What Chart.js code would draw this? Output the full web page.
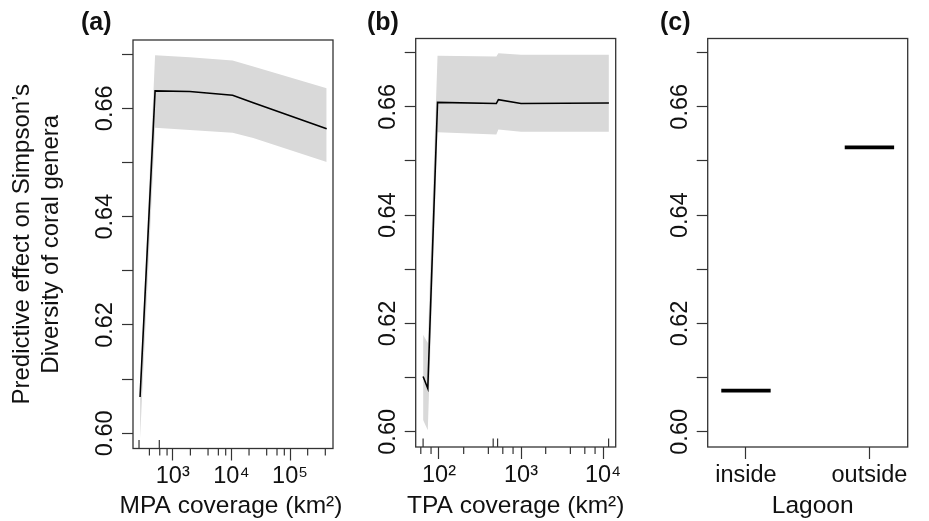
<!DOCTYPE html>
<html><head><meta charset="utf-8">
<script src="https://cdn.jsdelivr.net/npm/chart.js@4.4.1/dist/chart.umd.min.js"></script>
<style>
html,body{margin:0;padding:0;background:#fff;width:929px;height:521px;overflow:hidden;}
canvas{position:absolute;top:0;}
</style></head><body>
<canvas id="ca" width="345" height="521" style="left:0px"></canvas>
<canvas id="cb" width="275" height="521" style="left:355px"></canvas>
<canvas id="cc" width="299" height="521" style="left:630px"></canvas>
<script>
// ---------------- data ----------------
const mpaX     = [277, 500, 1950, 10500, 23600, 422000];
const mpaFit   = [0.6067, 0.6632, 0.6631, 0.6624, 0.6610, 0.6562];
const mpaUpper = [0.6085, 0.6698, 0.6694, 0.6688, 0.6677, 0.6637];
const mpaLower = [0.5990, 0.6564, 0.6560, 0.6555, 0.6545, 0.6501];
const mpaRug   = [266, 590];

const tpaX     = [64, 73, 96, 500, 530, 1000, 11800];
const tpaFit   = [0.6102, 0.6080, 0.6608, 0.6606, 0.6613, 0.6606, 0.6607];
const tpaUpper = [0.6179, 0.6164, 0.6694, 0.6693, 0.6699, 0.6696, 0.6696];
const tpaLower = [0.6022, 0.6003, 0.6553, 0.6549, 0.6558, 0.6554, 0.6554];
const tpaRug   = [64, 458, 518, 11700];

const lagoonCats = ['inside', 'outside'];
const lagoonFit  = [0.6076, 0.6525];

const yTicks      = [0.60, 0.61, 0.62, 0.63, 0.64, 0.65, 0.66, 0.67];
const yTickLabels = ['0.60', '', '0.62', '', '0.64', '', '0.66', ''];
const mpaTicks = [400, 600, 800, 1000, 2000, 4000, 6000, 8000, 10000, 20000, 40000, 60000, 80000, 100000, 200000, 400000];
const tpaTicks = [60, 80, 100, 200, 400, 600, 800, 1000, 2000, 4000, 6000, 8000, 10000];
const yTitle = ['Predictive effect on Simpson\u2019s', 'Diversity of coral genera'];
const xTitles = ['MPA coverage (km\u00b2)', 'TPA coverage (km\u00b2)', 'Lagoon'];

// ---------------- helpers ----------------
const FONT = '"Liberation Sans", Arial, Helvetica, sans-serif';
const INK = '#111';
const AX = '#333';
const SUP = {'0':'\u2070','1':'\u00b9','2':'\u00b2','3':'\u00b3','4':'\u2074','5':'\u2075','6':'\u2076'};
Chart.defaults.font.family = FONT;

function isMajor(v){ const l = Math.log10(v); return Math.abs(l - Math.round(l)) < 1e-9; }
function xy(xs, ys){ return xs.map((x, i) => ({x: x, y: ys[i]})); }

const decor = {
  id: 'decor',
  afterDatasetsDraw(chart, args, o) {
    const {ctx, chartArea: a} = chart;
    ctx.save();
    ctx.strokeStyle = AX; ctx.lineWidth = 1.3;
    ctx.strokeRect(a.left, a.top, a.right - a.left, a.bottom - a.top);
    ctx.restore();
  },
  afterDraw(chart, args, o) {
    const {ctx, chartArea: a} = chart;
    const xs = chart.scales.x;
    ctx.save();
    ctx.strokeStyle = AX; ctx.lineWidth = 1.2;
    (o.minor || []).forEach(v => {
      const p = xs.getPixelForValue(v);
      ctx.beginPath(); ctx.moveTo(p, a.bottom); ctx.lineTo(p, a.bottom + 7); ctx.stroke();
    });
    (o.rug || []).forEach(v => {
      const p = xs.getPixelForValue(v);
      ctx.beginPath(); ctx.moveTo(p, a.bottom); ctx.lineTo(p, a.bottom - 8.5); ctx.stroke();
    });
    ctx.fillStyle = INK;
    if (o.label) {
      ctx.font = 'bold 25px ' + FONT;
      ctx.textAlign = 'left'; ctx.textBaseline = 'alphabetic';
      ctx.fillText(o.label, o.labelX, o.labelY);
    }
    if (o.xTitle) {
      ctx.font = '24.5px ' + FONT;
      ctx.textAlign = 'center'; ctx.textBaseline = 'middle';
      ctx.fillText(o.xTitle, (a.left + a.right) / 2 + (o.xTitleDx || 0), 506.5);
    }
    ctx.restore();
  }
};

function yAxis(width, title) {
  return {
    min: 0.5972, max: 0.6726,
    afterBuildTicks: s => { s.ticks = yTicks.map(v => ({value: v})); },
    afterFit: s => { s.width = width; },
    ticks: {autoSkip: false, minRotation: 90, maxRotation: 90, crossAlign: 'center', padding: -6.5,
            font: {family: FONT, size: 23.5}, color: INK, callback: (v, i) => yTickLabels[i]},
    grid: {drawOnChartArea: false, drawTicks: true, tickLength: 11, tickColor: AX, tickWidth: 1.2},
    border: {display: false},
    title: title ? {display: true, text: title, font: {family: FONT, size: 24}, color: INK, padding: {top: 8, bottom: 0}} : {display: false}
  };
}

function xLogAxis(min, max, vals, height) {
  return {
    type: 'logarithmic', min: min, max: max,
    afterBuildTicks: s => { s.ticks = vals.map(v => ({value: v})); },
    afterFit: s => { s.height = height; },
    ticks: {autoSkip: false, minRotation: 0, maxRotation: 0, padding: 2,
            font: {family: FONT, size: 23.5}, color: INK,
            callback: v => isMajor(v) ? '10' + SUP[String(Math.round(Math.log10(v)))] : ''},
    grid: {drawOnChartArea: false, drawTicks: true, tickLength: 12, tickWidth: 1.2,
           tickColor: c => (c.tick && isMajor(c.tick.value)) ? AX : 'rgba(0,0,0,0)'},
    border: {display: false},
    title: {display: false}
  };
}

function bandSets(xs, fit, up, lo) {
  return [
    {data: xy(xs, fit), borderColor: '#000', borderWidth: 1.6, pointRadius: 0, tension: 0, fill: false},
    {data: xy(xs, up), borderWidth: 0, borderColor: 'rgba(0,0,0,0)', pointRadius: 0, tension: 0, fill: false},
    {data: xy(xs, lo), borderWidth: 0, borderColor: 'rgba(0,0,0,0)', pointRadius: 0, tension: 0, fill: '-1', backgroundColor: '#d9d9d9'}
  ];
}

const common = {
  responsive: false, animation: false, devicePixelRatio: 1, events: [],
};

// ---------------- (a) ----------------
new Chart(document.getElementById('ca'), {
  type: 'line',
  data: {datasets: bandSets(mpaX, mpaFit, mpaUpper, mpaLower)},
  options: Object.assign({}, common, {
    layout: {padding: {left: 0, right: 12, top: 40, bottom: 0}},
    scales: {
      x: xLogAxis(210, 541000, mpaTicks, 72.5),
      y: yAxis(133, yTitle)
    },
    plugins: {legend: {display: false}, tooltip: {enabled: false},
      decor: {minor: mpaTicks.filter(v => !isMajor(v)), rug: mpaRug, label: '(a)', labelX: 81, labelY: 30,
              xTitle: xTitles[0], xTitleDx: -2}}
  }),
  plugins: [decor]
});

// ---------------- (b) ----------------
new Chart(document.getElementById('cb'), {
  type: 'line',
  data: {datasets: bandSets(tpaX, tpaFit, tpaUpper, tpaLower)},
  options: Object.assign({}, common, {
    layout: {padding: {left: 0, right: 14.3, top: 38.5, bottom: 0}},
    scales: {
      x: xLogAxis(52, 14280, tpaTicks, 74),
      y: yAxis(60.7, null)
    },
    plugins: {legend: {display: false}, tooltip: {enabled: false},
      decor: {minor: tpaTicks.filter(v => !isMajor(v)), rug: tpaRug, label: '(b)', labelX: 12, labelY: 30,
              xTitle: xTitles[1], xTitleDx: 0}}
  }),
  plugins: [decor]
});

// ---------------- (c) ----------------
new Chart(document.getElementById('cc'), {
  type: 'line',
  data: {datasets: lagoonCats.map((c, i) => ({
    label: c,
    data: [{x: i + 1 - 0.2, y: lagoonFit[i]}, {x: i + 1 + 0.2, y: lagoonFit[i]}],
    borderColor: '#000', borderWidth: 3.6, borderCapStyle: 'butt', pointRadius: 0, fill: false
  }))},
  options: Object.assign({}, common, {
    layout: {padding: {left: 0, right: 21.3, top: 38.5, bottom: 0}},
    scales: {
      x: {
        type: 'linear', min: 0.69, max: 2.31,
        afterBuildTicks: s => { s.ticks = lagoonCats.map((c, i) => ({value: i + 1})); },
        afterFit: s => { s.height = 74; },
        ticks: {autoSkip: false, minRotation: 0, maxRotation: 0, padding: 2,
                font: {family: FONT, size: 23.5}, color: INK,
                callback: v => lagoonCats[Math.round(v) - 1]},
        grid: {drawOnChartArea: false, drawTicks: true, tickLength: 12, tickWidth: 1.2, tickColor: AX},
        border: {display: false},
        title: {display: false}
      },
      y: yAxis(77.7, null)
    },
    plugins: {legend: {display: false}, tooltip: {enabled: false},
      decor: {label: '(c)', labelX: 30, labelY: 30, xTitle: xTitles[2], xTitleDx: 5}}
  }),
  plugins: [decor]
});
</script>
</body></html>
